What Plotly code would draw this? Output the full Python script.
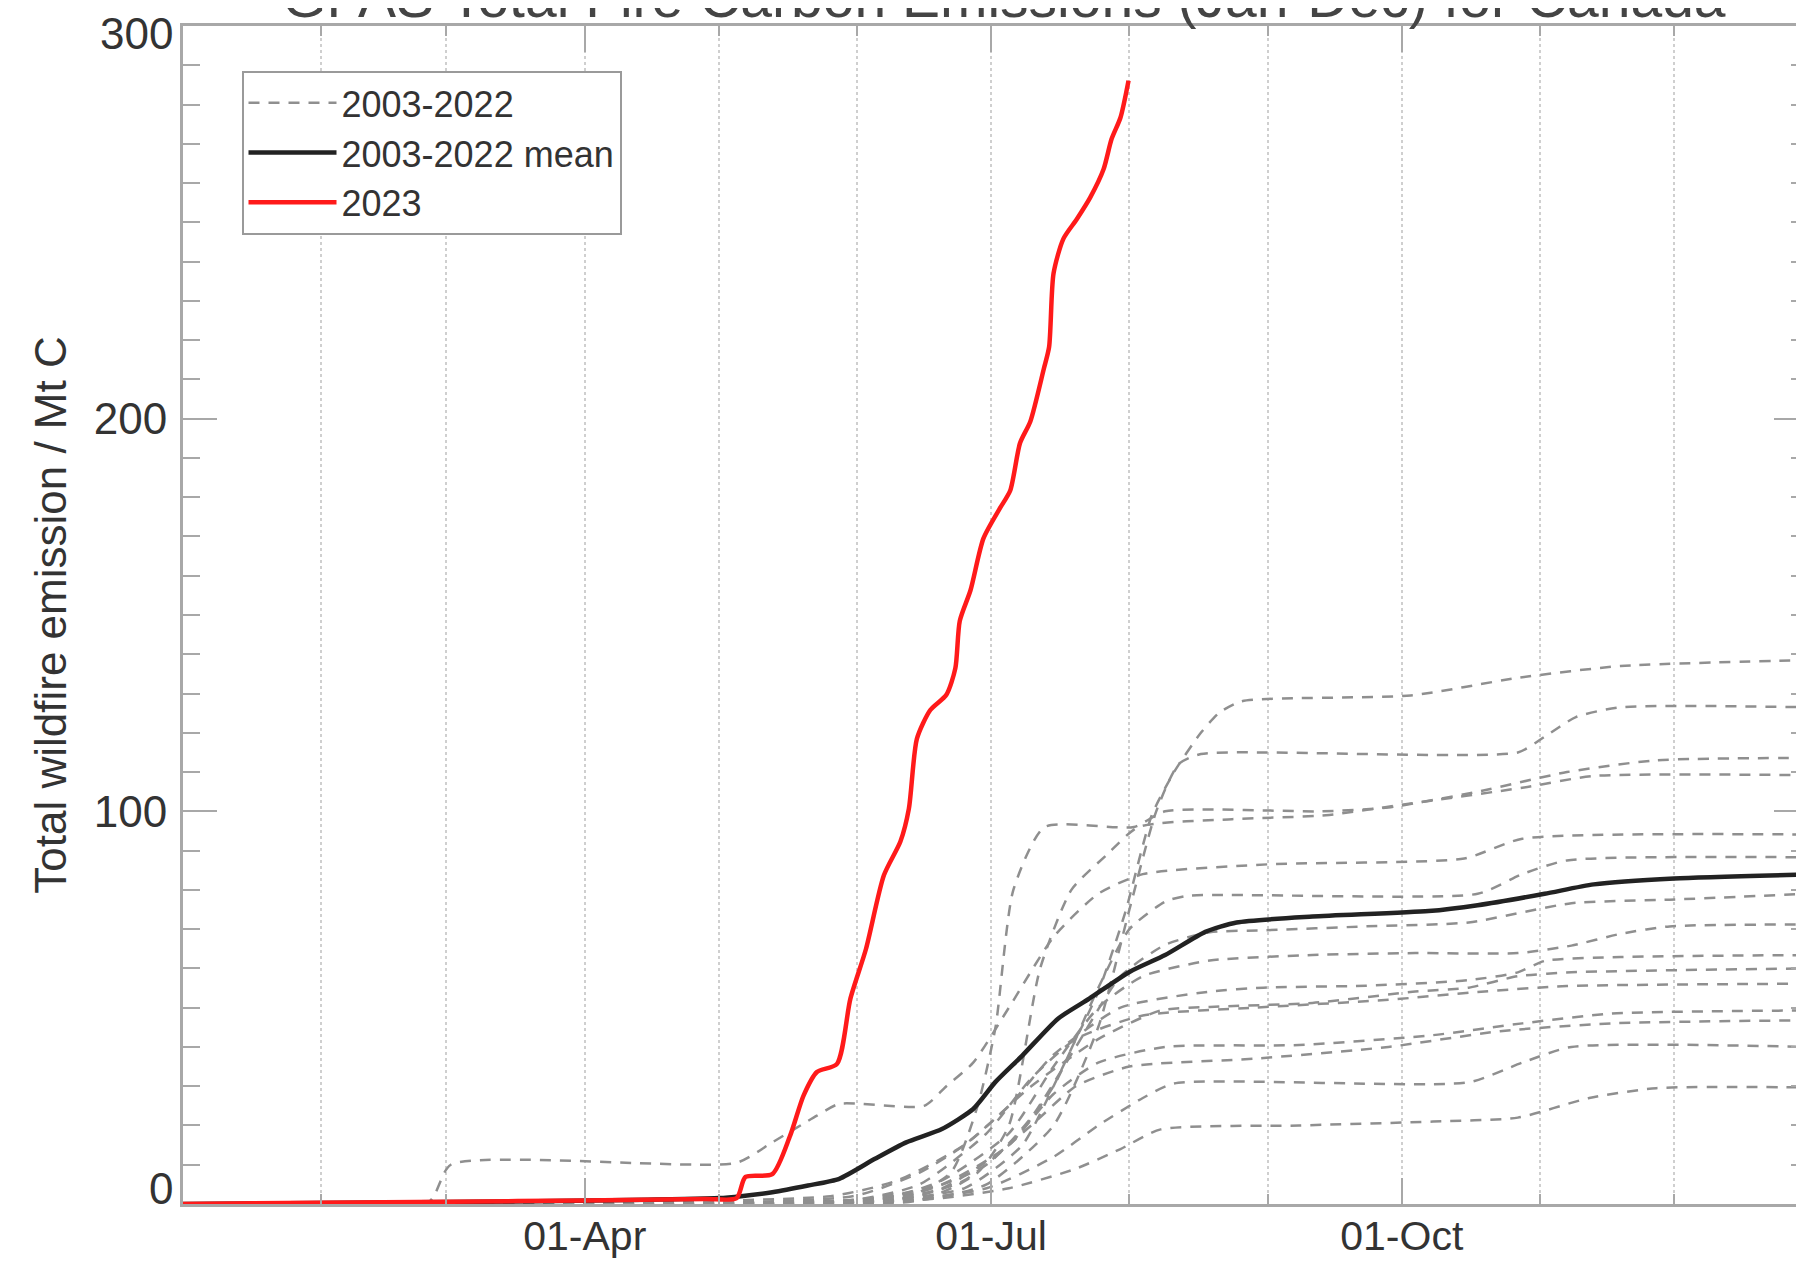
import pandas as pd
import plotly.graph_objects as go

# ---------------- data (day of year, 0 = 01-Jan; values in Mt C) ----------------
red_days = [0, 30, 60, 90, 117, 124, 126, 132, 136, 139, 142, 146.5, 149.5, 153, 157, 160.7, 162.6,
            164.4, 167.4, 171, 173, 174, 176.4, 179.3, 183, 185.3, 187.5, 189.8, 192.8, 194, 195,
            197.2, 200.2, 203.2, 206.2, 208, 210, 211.8]
red_vals = [0, 0.3, 0.6, 0.9, 1.3, 1.5, 6.9, 7.6, 17.4, 27.6, 33.6, 35.7, 52.3, 65, 83.7, 92.3, 100.7,
            118.5, 125.8, 129.7, 136.4, 148.5, 156.3, 169.5, 177.2, 181.7, 193.8, 199.3, 212.6, 218.2, 237,
            245.8, 250.8, 256.3, 263.5, 271.2, 276.7, 286.1]

mean_days = [0, 60, 100, 120, 125, 132, 140, 147, 155, 162, 170, 177, 182, 188, 196, 203, 212, 220,
             229, 236, 253, 279, 290, 305, 316, 334, 364]
mean_vals = [0, 0.5, 1.0, 1.5, 2.0, 3.0, 4.7, 6.4, 11.5, 15.7, 19.1, 24.2, 31.1, 37.8, 47.2, 52.3, 59.1,
             63.4, 69.3, 71.7, 73.2, 74.6, 76.1, 79.0, 81.4, 82.9, 83.9]

hist_a_days = [0, 150, 175, 188, 195, 200, 205, 211, 217, 222, 228, 232, 237, 275, 299, 322, 364]
hist_a_vals = [0, 0.5, 4, 15, 30, 42, 54, 74, 99, 110, 120, 125, 128, 129.5, 134, 137, 138.5]
hist_b_days = [0, 165, 180, 195, 205, 212, 218, 223, 228, 299, 305, 312, 322, 364]
hist_b_vals = [0, 1, 5, 20, 45, 75, 100, 112, 114.6, 115, 119, 124, 126.5, 126.5]
hist_c_days = [0, 160, 172, 178, 182, 186, 193, 213, 220, 255, 270, 290, 310, 330, 364]
hist_c_vals = [0, 1, 8, 25, 45, 80, 96, 96, 100, 100, 101, 105, 110, 113, 113.6]
hist_d_days = [0, 165, 178, 185, 192, 199, 207, 214, 235, 256, 275, 300, 316, 364]
hist_d_vals = [0, 1, 8, 20, 60, 80, 89, 96, 98, 99, 102, 106, 109, 109.2]
hist_e_days = [0, 55, 60, 124, 132, 142, 147, 166, 171, 177, 185, 195, 205, 215, 243, 287, 300, 364]
hist_e_vals = [0, 0.5, 10, 10.5, 15.7, 22.5, 25.5, 25, 30, 36, 50, 68, 79, 84, 86.5, 88, 93, 94.1]
hist_f_days = [0, 150, 170, 185, 195, 205, 212, 220, 225, 290, 300, 310, 364]
hist_f_vals = [0, 1, 5, 15, 30, 55, 70, 77, 78.5, 79, 84, 87.5, 88.3]
hist_g_days = [0, 150, 165, 180, 190, 200, 210, 220, 230, 242, 265, 288, 311, 333, 364]
hist_g_vals = [0, 1, 3, 10, 22, 40, 58, 66, 69.2, 69.7, 70.7, 71.7, 76.6, 77.5, 79]
hist_h_days = [0, 155, 170, 185, 195, 205, 215, 230, 253, 276, 299, 311, 322, 333, 364]
hist_h_vals = [0, 1, 6, 18, 35, 50, 58, 62, 63.4, 63.9, 63.9, 65.8, 68.8, 70.7, 71.2]
hist_i_days = [0, 150, 165, 175, 185, 195, 210, 230, 242, 265, 288, 299, 305, 322, 364]
hist_i_vals = [0, 2, 8, 15, 25, 38, 50, 54.1, 55.1, 55.6, 57, 59, 61.9, 62.9, 63.4]
hist_j_days = [0, 145, 160, 175, 190, 205, 219, 230, 253, 276, 288, 299, 311, 364]
hist_j_vals = [0, 2, 6, 15, 30, 42, 49.3, 50.2, 51.2, 54.1, 55.1, 58, 59, 60]
hist_k_days = [0, 150, 165, 180, 190, 200, 215, 240, 270, 290, 310, 364]
hist_k_vals = [0, 1, 5, 18, 32, 42, 48, 50, 52, 54, 55.5, 56.1]
hist_l_days = [0, 155, 170, 185, 195, 205, 220, 250, 280, 300, 320, 364]
hist_l_vals = [0, 1, 4, 15, 28, 36, 40, 40.5, 43, 46, 48.5, 49.3]
hist_m_days = [0, 160, 175, 190, 200, 212, 240, 270, 295, 320, 364]
hist_m_vals = [0, 1, 6, 20, 30, 35, 37, 40, 44, 46, 46.8]
hist_n_days = [0, 160, 180, 195, 205, 215, 222, 288, 300, 311, 364]
hist_n_vals = [0, 1, 4, 12, 20, 27, 30.7, 31, 36, 40, 40]
hist_o_days = [0, 165, 185, 200, 210, 219, 250, 280, 299, 315, 330, 364]
hist_o_vals = [0, 1, 4, 9, 14, 19, 20, 21, 22, 27, 29.5, 29.7]

hist_days = [hist_a_days, hist_b_days, hist_c_days, hist_d_days, hist_e_days, hist_f_days,
             hist_g_days, hist_h_days, hist_i_days, hist_j_days, hist_k_days, hist_l_days,
             hist_m_days, hist_n_days, hist_o_days]
hist_vals = [hist_a_vals, hist_b_vals, hist_c_vals, hist_d_vals, hist_e_vals, hist_f_vals,
             hist_g_vals, hist_h_vals, hist_i_vals, hist_j_vals, hist_k_vals, hist_l_vals,
             hist_m_vals, hist_n_vals, hist_o_vals]

x_tick_dates = ["2023-04-01", "2023-07-01", "2023-10-01"]
y_tick_vals = [0, 100, 200, 300]
y_tick_text = ["", "100", "200", ""]      # end labels drawn inset, as in the original
y_end_labels = ["0", "300"]

BASE = pd.Timestamp("2023-01-01")


def to_dates(days):
    return [BASE + pd.Timedelta(days=float(d)) for d in days]


FONT = "Liberation Sans, Arial, Helvetica, sans-serif"
TXT = "#333333"
AXC = "#a8a8a8"
TICKSIZE = 44

fig = go.Figure()

for i, (d, v) in enumerate(zip(hist_days, hist_vals)):
    fig.add_trace(go.Scatter(
        x=to_dates(d), y=v, mode="lines", name="2003-2022",
        showlegend=(i == 0), legendrank=1,
        line=dict(color="#8f8f8f", width=2.5, dash="11px,9px", shape="spline", smoothing=0.6),
        hoverinfo="skip"))

fig.add_trace(go.Scatter(
    x=to_dates(mean_days), y=mean_vals, mode="lines", name="2003-2022 mean", legendrank=2,
    line=dict(color="#222222", width=4.5, shape="spline", smoothing=0.6)))

fig.add_trace(go.Scatter(
    x=to_dates(red_days), y=red_vals, mode="lines", name="2023", legendrank=3,
    line=dict(color="#ff1a1a", width=4.5, shape="spline", smoothing=0.7)))

# inset end labels of the y axis (0 and 300)
fig.add_annotation(x=0, xref="paper", y=0, yref="y", text=y_end_labels[0], showarrow=False,
                   xanchor="right", yanchor="middle", xshift=-8, yshift=16,
                   font=dict(family=FONT, size=TICKSIZE, color=TXT))
fig.add_annotation(x=0, xref="paper", y=300, yref="y", text=y_end_labels[1], showarrow=False,
                   xanchor="right", yanchor="middle", xshift=-8, yshift=-7,
                   font=dict(family=FONT, size=TICKSIZE, color=TXT))

fig.update_layout(
    width=1804, height=1264,
    margin=dict(l=175, r=1, t=18, b=68),
    paper_bgcolor="white", plot_bgcolor="white",
    font=dict(family=FONT, color=TXT, size=40),
    title=dict(text="GFAS Total Fire Carbon Emissions (Jan-Dec) for Canada",
               font=dict(family=FONT, size=57, color="#444444"),
               x=0.552, xanchor="center", xref="container",
               y=1 - 9 / 1264, yanchor="bottom", yref="container"),
    showlegend=True,
    legend=dict(x=0.036, y=0.962, xanchor="left", yanchor="top",
                bgcolor="white", bordercolor="#9a9a9a", borderwidth=2,
                font=dict(family=FONT, size=36, color=TXT),
                itemwidth=88, traceorder="normal"),
)

fig.update_xaxes(
    type="date", range=["2023-01-01", "2023-12-31"],
    tickvals=x_tick_dates, tickformat="%d-%b",
    ticks="inside", ticklen=26, tickwidth=2, tickcolor=AXC,
    showline=True, linecolor=AXC, linewidth=3, mirror="allticks",
    showgrid=True, gridcolor="#cfcfcf", griddash="dot", gridwidth=2,
    tickfont=dict(family=FONT, size=41, color=TXT),
    ticklabelstandoff=-6,
    minor=dict(dtick="M1", tick0="2023-01-01", ticks="inside", ticklen=10, tickcolor=AXC,
               showgrid=True, gridcolor="#cfcfcf", griddash="dot", gridwidth=2),
    zeroline=False,
)

fig.update_yaxes(
    range=[0, 300], tickvals=y_tick_vals, ticktext=y_tick_text,
    ticks="inside", ticklen=34, tickwidth=2, tickcolor=AXC,
    showline=True, linecolor=AXC, linewidth=3, mirror="allticks",
    showgrid=False, zeroline=False,
    tickfont=dict(family=FONT, size=TICKSIZE, color=TXT),
    ticklabelstandoff=4,
    minor=dict(dtick=10, tick0=0, ticks="inside", ticklen=17, tickcolor=AXC, showgrid=False),
    title=dict(text="Total wildfire emission / Mt C", standoff=14,
               font=dict(family=FONT, size=44, color=TXT)),
)

fig.write_html("out.html")
